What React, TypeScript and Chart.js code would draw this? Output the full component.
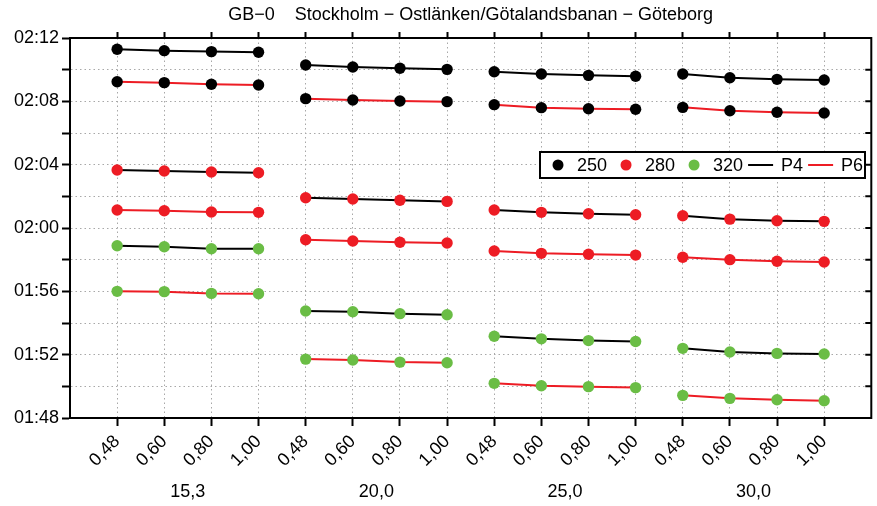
import React, { useEffect, useRef } from 'react';
import { Chart, registerables } from 'chart.js';

Chart.register(...registerables);

const TITLE = 'GB\u22120    Stockholm \u2212 Ostl\u00e4nken/G\u00f6talandsbanan \u2212 G\u00f6teborg';
const groupLabels = ['15,3', '20,0', '25,0', '30,0'];
const factorLabels = ['0,48', '0,60', '0,80', '1,00'];
const speedLabels = ['250', '280', '320'];
const profileLabels = ['P4', 'P6'];
const speedColors = ['#000000', '#ED1C24', '#6ABD45'];
const profileColors = ['#000000', '#ED1C24'];

// travel times in minutes; rows = groups (15,3 / 20,0 / 25,0 / 30,0), cols = factors
const t250P4 = [
  [131.29, 131.2, 131.14, 131.1],
  [130.29, 130.17, 130.09, 130.02],
  [129.87, 129.73, 129.64, 129.58],
  [129.73, 129.49, 129.39, 129.35],
];
const t250P6 = [
  [129.24, 129.18, 129.08, 129.03],
  [128.17, 128.08, 128.02, 127.98],
  [127.79, 127.6, 127.53, 127.5],
  [127.62, 127.41, 127.31, 127.26],
];
const t280P4 = [
  [123.66, 123.6, 123.54, 123.49],
  [121.91, 121.83, 121.75, 121.68],
  [121.14, 120.99, 120.9, 120.84],
  [120.77, 120.56, 120.46, 120.42],
];
const t280P6 = [
  [121.14, 121.09, 121.01, 120.99],
  [119.26, 119.18, 119.1, 119.05],
  [118.55, 118.4, 118.34, 118.29],
  [118.15, 118.0, 117.9, 117.85],
];
const t320P4 = [
  [118.88, 118.82, 118.69, 118.69],
  [114.76, 114.71, 114.59, 114.52],
  [113.16, 113.0, 112.89, 112.83],
  [112.4, 112.17, 112.08, 112.04],
];
const t320P6 = [
  [116.0, 115.98, 115.87, 115.85],
  [111.72, 111.66, 111.53, 111.49],
  [110.19, 110.04, 109.98, 109.92],
  [109.43, 109.24, 109.15, 109.09],
];

const yMin = 108;
const yMax = 132;
const yStep = 2;

const series = [
  { speed: 0, profile: 0, values: t250P4 },
  { speed: 0, profile: 1, values: t250P6 },
  { speed: 1, profile: 0, values: t280P4 },
  { speed: 1, profile: 1, values: t280P6 },
  { speed: 2, profile: 0, values: t320P4 },
  { speed: 2, profile: 1, values: t320P6 },
];

const FONT = 'Liberation Sans, Arial, Helvetica, sans-serif';

const pad2 = (n: number) => String(n).padStart(2, '0');
const fmtTime = (v: number) => `${pad2(Math.floor(v / 60))}:${pad2(Math.round(v % 60))}`;

const nF = factorLabels.length;
const xPositions: number[] = [];
groupLabels.forEach((_, g) => factorLabels.forEach((__, j) => xPositions.push(g * nF + j + 1)));
const groupCenters = groupLabels.map((_, g) => g * nF + (nF + 1) / 2);
const xMax = groupLabels.length * nF + 1;

const framePlugin = {
  id: 'frameLegend',
  afterDraw(chart: any) {
    const { ctx, chartArea: a, scales } = chart;
    const y = scales.y;
    ctx.save();
    // right axis with inward ticks
    ctx.strokeStyle = '#000';
    ctx.lineWidth = 2;
    ctx.beginPath();
    ctx.moveTo(a.right, a.top - 1);
    ctx.lineTo(a.right, a.bottom + 1);
    y.ticks.forEach((t: any) => {
      const py = y.getPixelForValue(t.value);
      ctx.moveTo(a.right, py);
      ctx.lineTo(a.right - 6, py);
    });
    ctx.stroke();

    // legend
    const left = a.left + 470;
    const top = a.top + 114;
    const h = 26;
    const w = 325;
    const cy = top + h / 2;
    ctx.fillStyle = '#fff';
    ctx.fillRect(left, top, w, h);
    ctx.lineWidth = 2;
    ctx.strokeStyle = '#000';
    ctx.strokeRect(left, top, w, h);
    ctx.font = `18px ${FONT}`;
    ctx.textBaseline = 'middle';
    ctx.textAlign = 'left';
    let x = left + 18;
    speedLabels.forEach((lab, i) => {
      ctx.fillStyle = speedColors[i];
      ctx.beginPath();
      ctx.arc(x, cy, 5.5, 0, Math.PI * 2);
      ctx.fill();
      ctx.fillStyle = '#000';
      ctx.fillText(lab, x + 19, cy + 1);
      x = x + 19 + ctx.measureText(lab).width;
      if (i < speedLabels.length - 1) x += 19;
    });
    profileLabels.forEach((lab, i) => {
      const x0 = x + 5;
      ctx.strokeStyle = profileColors[i];
      ctx.lineWidth = 2;
      ctx.beginPath();
      ctx.moveTo(x0, cy);
      ctx.lineTo(x0 + 25, cy);
      ctx.stroke();
      ctx.fillStyle = '#000';
      ctx.fillText(lab, x0 + 33, cy + 1);
      x = x0 + 33 + ctx.measureText(lab).width;
    });
    ctx.restore();
  },
};

export default function App() {
  const ref = useRef<HTMLCanvasElement | null>(null);

  useEffect(() => {
    if (!ref.current) return;
    const datasets: any[] = [];
    series.forEach((s) => {
      s.values.forEach((row, g) => {
        datasets.push({
          label: `${speedLabels[s.speed]} ${profileLabels[s.profile]} ${groupLabels[g]}`,
          data: row.map((v, j) => ({ x: g * nF + j + 1, y: v })),
          borderColor: profileColors[s.profile],
          borderWidth: 2,
          pointBackgroundColor: speedColors[s.speed],
          pointBorderWidth: 0,
          pointRadius: 5.7,
          pointHoverRadius: 5.7,
          showLine: true,
          fill: false,
          tension: 0,
        });
      });
    });

    const font = { family: FONT, size: 18 };
    const gridColor = '#a8a8a8';

    const chart = new Chart(ref.current, {
      type: 'scatter',
      data: { datasets },
      plugins: [framePlugin],
      options: {
        animation: false,
        responsive: false,
        maintainAspectRatio: false,
        layout: { padding: { left: 0, right: 5, top: 0, bottom: 0 } },
        plugins: {
          legend: { display: false },
          tooltip: { enabled: false },
          title: {
            display: true,
            text: TITLE,
            fullSize: false,
            color: '#000',
            font: { family: FONT, size: 18, weight: 'normal' },
            padding: { top: 4, bottom: 0 },
          },
        },
        scales: {
          x: {
            type: 'linear',
            position: 'bottom',
            weight: 0,
            min: 0,
            max: xMax,
            afterBuildTicks: (s: any) => {
              s.ticks = xPositions.map((v) => ({ value: v }));
            },
            afterFit: (s: any) => {
              s.height = 50;
            },
            ticks: {
              callback: (_v: any, i: number) => factorLabels[i % nF],
              minRotation: 45,
              maxRotation: 45,
              autoSkip: false,
              color: '#000',
              font,
              padding: 5,
            },
            grid: { color: gridColor, lineWidth: 1, tickColor: '#000', tickWidth: 2, tickLength: 8 },
            border: { display: true, color: '#000', width: 2, dash: [1.5, 3] },
          },
          xg: {
            type: 'linear',
            position: 'bottom',
            weight: 1,
            min: 0,
            max: xMax,
            afterBuildTicks: (s: any) => {
              s.ticks = groupCenters.map((v) => ({ value: v }));
            },
            afterFit: (s: any) => {
              s.height = 38;
            },
            ticks: {
              callback: (_v: any, i: number) => groupLabels[i],
              minRotation: 0,
              maxRotation: 0,
              autoSkip: false,
              color: '#000',
              font,
              padding: 5,
            },
            grid: { display: false },
            border: { display: false },
          },
          xt: {
            type: 'linear',
            position: 'top',
            min: 0,
            max: xMax,
            afterBuildTicks: (s: any) => {
              s.ticks = xPositions.map((v) => ({ value: v }));
            },
            afterFit: (s: any) => {
              s.height = 12.4;
            },
            ticks: { display: false },
            grid: { drawOnChartArea: false, color: '#000', tickColor: '#000', tickWidth: 2, tickLength: 6 },
            border: { display: true, color: '#000', width: 2 },
          },
          y: {
            type: 'linear',
            position: 'left',
            min: yMin,
            max: yMax,
            afterFit: (s: any) => {
              s.width = 70;
            },
            ticks: {
              stepSize: yStep,
              autoSkip: false,
              callback: (v: any) => (Number(v) % 4 === 0 ? fmtTime(Number(v)) : ''),
              color: '#000',
              font,
              padding: 3,
            },
            grid: { color: gridColor, lineWidth: 1, tickColor: '#000', tickWidth: 2, tickLength: 8 },
            border: { display: true, color: '#000', width: 2, dash: [1.5, 3] },
          },
        },
      } as any,
    });
    return () => chart.destroy();
  }, []);

  return (
    <div style={{ position: 'fixed', left: 0, top: 0, width: 877, height: 506, background: '#fff' }}>
      <canvas ref={ref} width={877} height={506} style={{ display: 'block' }} />
    </div>
  );
}
